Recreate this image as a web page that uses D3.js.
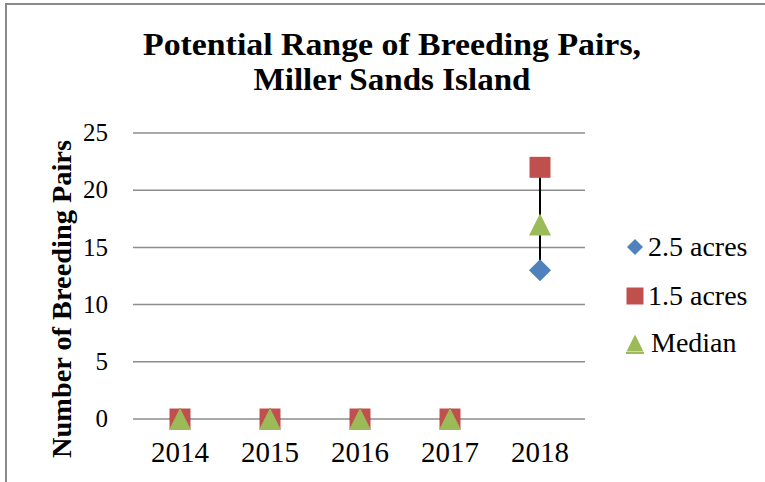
<!DOCTYPE html>
<html>
<head>
<meta charset="utf-8">
<script src="https://cdn.jsdelivr.net/npm/d3@7/dist/d3.min.js"></script>
<style>
  html, body { margin: 0; padding: 0; background: #fff; }
  svg { display: block; }
  text { font-family: "Liberation Serif", "DejaVu Serif", serif; fill: #000; }
</style>
</head>
<body>
<svg id="chart" width="765" height="482"></svg>
<script>
// Breeding pair estimates per year
const years = ["2014", "2015", "2016", "2017", "2018"];
const acres25 = [0, 0, 0, 0, 13];   // 2.5 acres
const acres15 = [0, 0, 0, 0, 22];   // 1.5 acres
const median  = [0, 0, 0, 0, 17];   // Median
const yTicks = [0, 5, 10, 15, 20, 25];
const seriesNames = ["2.5 acres", "1.5 acres", "Median"];

const colors = { blue: "#4F81BD", red: "#C0504D", green: "#9BBB59" };

// marker symbol types; size = full width of the marker's bounding box
const symSquare = { draw(ctx, s) { const h = s / 2; ctx.rect(-h, -h, s, s); } };
const symDiamond = { draw(ctx, s) { const h = s / 2; ctx.moveTo(0, -h); ctx.lineTo(h, 0); ctx.lineTo(0, h); ctx.lineTo(-h, 0); ctx.closePath(); } };
const symTriangle = { draw(ctx, s) { const h = s / 2; ctx.moveTo(0, -h); ctx.lineTo(h, h); ctx.lineTo(-h, h); ctx.closePath(); } };

const svg = d3.select("#chart");
const W = 765, H = 482;
const plot = { left: 133, right: 585, top: 133, bottom: 419 };

// outer frame (top and left edges visible)
svg.append("path")
  .attr("d", `M6,${H} L6,4 L${W},4`)
  .attr("fill", "none").attr("stroke", "#8a8a8a").attr("stroke-width", 2);

const x = d3.scaleBand().domain(years).range([plot.left + 2, plot.right]);
const y = d3.scaleLinear().domain([0, 25]).range([plot.bottom, plot.top]);
const cx = yr => x(yr) + x.bandwidth() / 2;

// horizontal gridlines
svg.append("g")
  .selectAll("line").data(yTicks).join("line")
  .attr("x1", plot.left).attr("x2", plot.right)
  .attr("y1", d => y(d)).attr("y2", d => y(d))
  .attr("stroke", "#8c8c8c").attr("stroke-width", 1.5);

// y axis labels
const yAxis = d3.axisLeft(y).tickValues(yTicks).tickSize(0).tickPadding(0);
const gy = svg.append("g").attr("transform", `translate(108,0)`).call(yAxis);
gy.select(".domain").remove();
gy.selectAll("text").style("font-family", "Liberation Serif, serif").style("font-size", "25px").attr("dy", "0.31em");

// x axis labels
const xAxis = d3.axisBottom(x).tickSize(0).tickPadding(0);
const gx = svg.append("g").attr("transform", `translate(0,462)`).call(xAxis);
gx.select(".domain").remove();
gx.selectAll("text").style("font-family", "Liberation Serif, serif").style("font-size", "29px").attr("y", 0).attr("dy", 0);

// title
const title = svg.append("text")
  .attr("text-anchor", "middle")
  .attr("font-weight", "bold")
  .attr("font-size", "31px");
title.append("tspan").attr("x", 392).attr("y", 55)
  .attr("textLength", 498).attr("lengthAdjust", "spacingAndGlyphs")
  .text("Potential Range of Breeding Pairs,");
title.append("tspan").attr("x", 392).attr("y", 90)
  .attr("textLength", 277).attr("lengthAdjust", "spacingAndGlyphs")
  .text("Miller Sands Island");

// y axis title
svg.append("text")
  .attr("transform", `translate(71,299) rotate(-90)`)
  .attr("text-anchor", "middle")
  .attr("font-weight", "bold")
  .attr("font-size", "28px")
  .attr("textLength", 318).attr("lengthAdjust", "spacingAndGlyphs")
  .text("Number of Breeding Pairs");

// high-low lines between series
const hl = years.map((yr, i) => ({
  yr, hi: Math.max(acres25[i], acres15[i], median[i]), lo: Math.min(acres25[i], acres15[i], median[i])
})).filter(d => d.hi > d.lo);
svg.append("g").selectAll("line").data(hl).join("line")
  .attr("x1", d => cx(d.yr)).attr("x2", d => cx(d.yr))
  .attr("y1", d => y(d.hi)).attr("y2", d => y(d.lo))
  .attr("stroke", "#000").attr("stroke-width", 2);

function markers(values, type, size, color) {
  svg.append("g").selectAll("path").data(values).join("path")
    .attr("d", d3.symbol().type(type).size(size))
    .attr("transform", (d, i) => `translate(${cx(years[i])},${y(d)})`)
    .attr("fill", color);
}
markers(acres25, symDiamond, 22, colors.blue);
markers(acres15, symSquare, 21, colors.red);
markers(median, symTriangle, 22, colors.green);

// legend
const legend = svg.append("g");
const lx = 635, ltx = 648;
const rows = [247, 296, 343];
legend.append("path").attr("d", d3.symbol().type(symDiamond).size(16)())
  .attr("transform", `translate(${lx},${rows[0]})`).attr("fill", colors.blue);
legend.append("path").attr("d", d3.symbol().type(symSquare).size(17)())
  .attr("transform", `translate(${lx},${rows[1]})`).attr("fill", colors.red);
legend.append("path").attr("d", d3.symbol().type(symTriangle).size(17)())
  .attr("transform", `translate(${lx},${rows[2]})`).attr("fill", colors.green);
legend.append("line").attr("x1", lx - 9).attr("x2", lx + 9)
  .attr("y1", rows[2] + 10).attr("y2", rows[2] + 10)
  .attr("stroke", colors.green).attr("stroke-width", 2);
legend.selectAll("text").data(seriesNames).join("text")
  .attr("x", (d, i) => i === 2 ? ltx + 3 : ltx).attr("y", (d, i) => rows[i] - 1).attr("dy", "0.34em")
  .attr("font-size", "28px")
  .text(d => d);
</script>
</body>
</html>
